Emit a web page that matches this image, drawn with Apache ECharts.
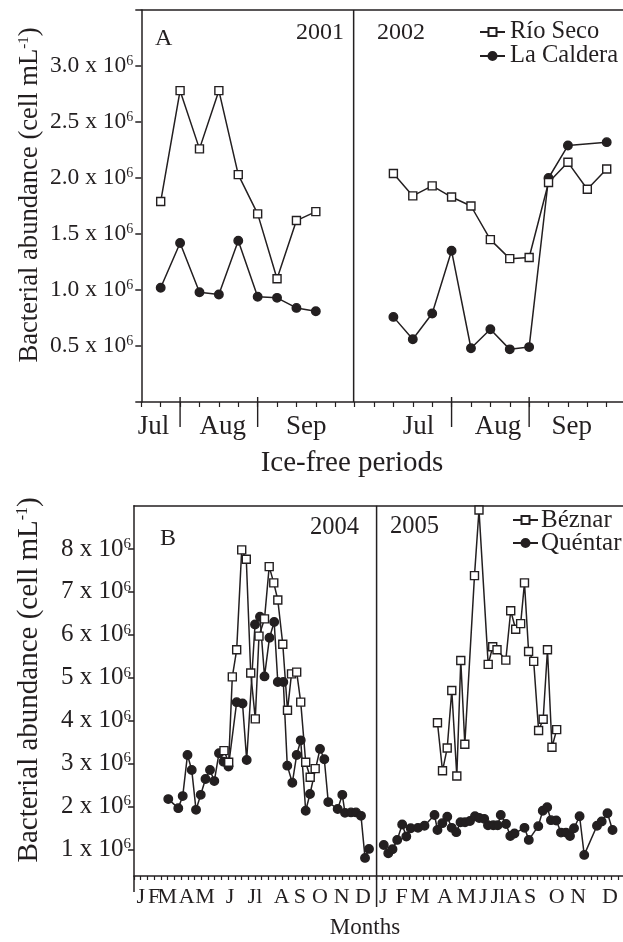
<!DOCTYPE html>
<html><head><meta charset="utf-8">
<script src="https://cdn.jsdelivr.net/npm/echarts@6/dist/echarts.min.js"></script>
<style>html,body{margin:0;padding:0;background:#fff}#c{width:623px;height:942px}</style>
</head><body><div id="c"></div>
<script>
// ---------- Panel A: ice-free periods (sampling occasion index), values in 10^6 cells/mL
const idx2001 = [1,2,3,4,5,6,7,8,9];
const rioSeco2001 = [1.79,2.78,2.26,2.78,2.03,1.68,1.10,1.62,1.70];
const laCaldera2001 = [1.02,1.42,0.98,0.96,1.44,0.94,0.93,0.84,0.81];
const idx2002 = [13,14,15,16,17,18,19,20,21,22,23,24];
const rioSeco2002 = [2.04,1.84,1.93,1.83,1.75,1.45,1.28,1.29,1.96,2.14,1.90,2.08];
const laCaldera2002 = [0.76,0.56,0.79,1.35,0.48,0.65,0.47,0.49,2.00,2.29,null,2.32];
const monthsA = ['Jul','Aug','Sep','Jul','Aug','Sep'];
const monthPosA = [0.63,4.2,8.5,14.3,18.4,22.2];
const monthSepA = [2,6,16,20];
const yTicksA = [0,0.5,1.0,1.5,2.0,2.5,3.0,3.5];
const yLabelsA = [0.5,1.0,1.5,2.0,2.5,3.0];

// ---------- Panel B: time in 10-day periods from 1 Jan 2004, values in 10^6 cells/mL
const beznar2004X = [13.39,14.09,14.63,15.28,16.03,16.71,17.37,18.05,18.60,19.42,20.12,20.80,21.40,22.14,22.84,23.44,24.21,24.81,25.55,26.22,26.96];
const beznar2004 = [3.30,3.03,5.02,5.65,7.98,7.76,5.11,4.04,5.97,6.37,7.59,7.21,6.81,5.78,4.24,5.09,5.13,4.43,3.03,2.68,2.88];
const quentar2004X = [5.10,6.59,7.25,7.96,8.59,9.23,9.93,10.64,11.31,11.95,12.65,13.32,14.06,15.28,16.15,16.77,18.01,18.75,19.42,20.16,20.86,21.40,22.22,22.81,23.56,24.21,24.81,25.55,26.19,27.68,28.32,28.91,30.31,31.00,31.40,32.29,33.04,33.78,34.38,34.97];
const quentar2004 = [2.17,1.96,2.24,3.20,2.85,1.92,2.27,2.64,2.85,2.59,3.24,3.04,2.93,4.43,4.40,3.08,6.24,6.42,5.03,5.93,6.30,4.90,4.90,2.95,2.55,3.20,3.54,1.90,2.29,3.34,3.10,2.10,1.94,2.27,1.85,1.86,1.86,1.78,0.80,1.01];
const beznar2005X = [45.16,45.91,46.61,47.29,48.04,48.63,49.23,50.67,51.34,52.71,53.38,54.02,55.33,56.06,56.80,57.54,58.11,58.72,59.48,60.21,60.89,61.53,62.20,62.90];
const beznar2005 = [3.95,2.83,3.36,4.70,2.71,5.40,3.45,7.38,8.91,5.31,5.72,5.65,5.41,6.56,6.13,6.26,7.21,5.61,5.38,3.77,4.03,5.65,3.38,3.79];
const quentar2005X = [37.17,37.84,38.47,39.17,39.91,40.52,41.18,42.26,43.23,44.72,45.16,45.88,46.62,47.28,47.96,48.59,49.26,50.00,50.74,51.37,52.11,52.68,53.47,54.12,54.58,55.36,56.00,56.62,58.11,58.75,60.16,60.83,61.49,62.05,62.84,63.54,64.29,64.88,65.48,66.31,67.00,68.90,69.60,70.46,71.21];
const quentar2005 = [1.10,0.91,1.00,1.22,1.58,1.30,1.49,1.50,1.55,1.80,1.45,1.61,1.76,1.50,1.40,1.63,1.63,1.66,1.77,1.73,1.71,1.56,1.56,1.56,1.80,1.59,1.31,1.37,1.50,1.22,1.54,1.90,1.98,1.68,1.67,1.39,1.39,1.31,1.49,1.77,0.87,1.55,1.65,1.84,1.45];
const monthsB = ['J','F','M','A','M','J','Jl','A','S','O','N','D','J','F','M','A','M','J','Jl','A','S','O','N','D'];
const monthPosB = [1.0,3.0,4.95,7.84,10.57,14.29,18.0,21.98,24.7,27.68,30.9,34.08,37.1,39.84,42.56,46.28,49.5,51.98,54.15,56.5,58.93,62.9,66.1,70.83];
const yTicksB = [1,2,3,4,5,6,7,8];

const TXT = '#231f20';
const FF = '"Liberation Serif", "Times New Roman", serif';
const range = (a, b) => { const r = []; for (let i = a; i <= b; i++) r.push(i); return r; };

function series(name, xs, ys, square, g) {
  const data = [];
  xs.forEach((x, i) => { if (ys[i] != null) data.push([x, ys[i]]); });
  return {
    type: 'line', name, xAxisIndex: g * 2, yAxisIndex: g, data,
    symbol: square ? 'rect' : 'circle',
    symbolSize: square ? 8 : 8.5,
    itemStyle: { color: square ? '#fff' : TXT, borderColor: TXT, borderWidth: 1.4 },
    lineStyle: { color: TXT, width: 1.5 },
    emphasis: { disabled: true },
    z: square ? 3 : 2, animation: false
  };
}
const rich = (fs) => ({
  b: { fontSize: fs, fontFamily: FF, color: TXT },
  s: { fontSize: Math.round(fs * 0.6), fontFamily: FF, color: TXT, verticalAlign: 'top' }
});
function yAxis(g, min, max, ticks, labels, fmt, fs, margin, nameFs, gap, pad) {
  return {
    type: 'value', gridIndex: g, min, max,
    axisLine: { show: true, lineStyle: { color: TXT, width: 1.5 } },
    axisTick: { show: true, customValues: ticks, length: 6, lineStyle: { color: TXT, width: 1.5 } },
    axisLabel: { customValues: labels, margin, formatter: fmt, rich: rich(fs), fontFamily: FF, fontSize: fs, color: TXT, hideOverlap: false },
    splitLine: { show: false },
    name: '{t|Bacterial abundance (cell mL}{s|-1}{t|)}', nameLocation: 'middle', nameRotate: 90, nameGap: gap,
    nameMoveOverlap: false,
    nameTextStyle: { fontFamily: FF, fontSize: nameFs, color: TXT, padding: [0, 0, 0, pad],
      rich: { t: { fontSize: nameFs, fontFamily: FF, color: TXT },
              s: { fontSize: Math.round(nameFs * 0.55), fontFamily: FF, color: TXT, verticalAlign: 'top' } } }
  };
}
function xAxes(g, max, ticks, pos, names, margin, tlen, fs) {
  return [{
    type: 'value', gridIndex: g, min: 0, max, position: 'bottom',
    axisLine: { show: true, onZero: false, lineStyle: { color: TXT, width: 1.5 } },
    axisTick: { show: true, customValues: ticks, length: tlen, lineStyle: { color: TXT, width: 1.2 } },
    axisLabel: { customValues: pos, margin, fontFamily: FF, fontSize: fs, color: TXT, hideOverlap: false,
      showMinLabel: true, showMaxLabel: true,
      formatter: (v, i) => { const k = pos.indexOf(v); return names[k >= 0 ? k : i]; } },
    splitLine: { show: false }
  }, {
    type: 'value', gridIndex: g, min: 0, max, position: 'top',
    axisLine: { show: true, onZero: false, lineStyle: { color: TXT, width: 1.5 } },
    axisTick: { show: false }, axisLabel: { show: false }, splitLine: { show: false }
  }];
}

const chart = echarts.init(document.getElementById('c'), null, { renderer: 'canvas' });
const maxA = 24.84, maxB = 72.77;
const option = {
  animation: false,
  backgroundColor: '#fff',
  grid: [
    { left: 141.3, top: 10, width: 481.7, height: 392, outerBoundsMode: 'none', containLabel: false },
    { left: 134, top: 505.7, width: 489, height: 370.3, outerBoundsMode: 'none', containLabel: false }
  ],
  xAxis: [
    ...xAxes(0, maxA, range(0, 24), monthPosA, monthsA, 11, 5, 27),
    ...xAxes(1, maxB, range(0, 72), monthPosB, monthsB, 10, 4, 22)
  ],
  yAxis: [
    yAxis(0, 0, 3.5, yTicksA, yLabelsA, v => `{b|${v.toFixed(1)} x 10}{s|6}`, 23.5, 8, 26.6, 98, 22),
    yAxis(1, 0.378, 9.009, yTicksB, yTicksB, v => `{b|${v} x 10}{s|6}`, 25, 3, 29, 90, 22)
  ],
  legend: [
    { data: ['Río Seco', 'La Caldera'], orient: 'vertical', left: 479, top: 19.5, padding: 0,
      itemWidth: 25, itemHeight: 10, itemGap: -1, selectedMode: false,
      textStyle: { fontFamily: FF, fontSize: 24.5, color: TXT } },
    { data: ['Béznar', 'Quéntar'], orient: 'vertical', left: 512, top: 507.5, padding: 0,
      itemWidth: 25, itemHeight: 10, itemGap: -2, selectedMode: false,
      textStyle: { fontFamily: FF, fontSize: 25, color: TXT, padding: [0, 0, 0, -2] } }
  ],
  series: [
    series('Río Seco', idx2001, rioSeco2001, true, 0),
    series('La Caldera', idx2001, laCaldera2001, false, 0),
    series('Río Seco', idx2002, rioSeco2002, true, 0),
    series('La Caldera', idx2002, laCaldera2002, false, 0),
    series('Quéntar', quentar2004X, quentar2004, false, 1),
    series('Béznar', beznar2004X, beznar2004, true, 1),
    series('Quéntar', quentar2005X, quentar2005, false, 1),
    series('Béznar', beznar2005X, beznar2005, true, 1)
  ]
};
chart.setOption(option);

// Extra lines and annotation texts, positioned through the axes' scales
const px = (xi, v) => chart.convertToPixel({ xAxisIndex: xi }, v);
const py = (yi, v) => chart.convertToPixel({ yAxisIndex: yi }, v);
const line = (x1, y1, x2, y2, w) => ({ type: 'line', silent: true, z: 50,
  shape: { x1, y1, x2, y2 }, style: { stroke: TXT, lineWidth: w || 1.5 } });
const text = (t, x, y, size, align) => ({ type: 'text', silent: true, z: 50, x, y,
  style: { text: t, font: `${size}px ${FF}`, fill: TXT, align: align || 'left', verticalAlign: 'middle',
    textAlign: align || 'left', textVerticalAlign: 'middle' } });
const g = [];
const aTop = py(0, 3.5), aBot = py(0, 0);
g.push(line(px(0, 10.95), aTop, px(0, 10.95), aBot));
monthSepA.forEach(m => g.push(line(px(0, m), aBot - 5, px(0, m), aBot + 25, 1.4)));
const bTop = py(1, 9.009), bBot = py(1, 0.378);
g.push(line(px(2, 36.1), bTop, px(2, 36.1), bBot + 31));
g.push(line(px(2, 0), bBot, px(2, 0), bBot + 16));
g.push(text('A', 155, 39, 24));
g.push(text('2001', 296, 33, 24));
g.push(text('2002', 377, 33, 24));
g.push(text('Ice-free periods', 352, 463, 29, 'center'));
g.push(text('B', 160, 539, 24));
g.push(text('2004', 310, 528, 24.5));
g.push(text('2005', 390, 527, 24.5));
g.push(text('Months', 365, 928, 23, 'center'));
chart.setOption({ graphic: { elements: g } });
</script></body></html>
